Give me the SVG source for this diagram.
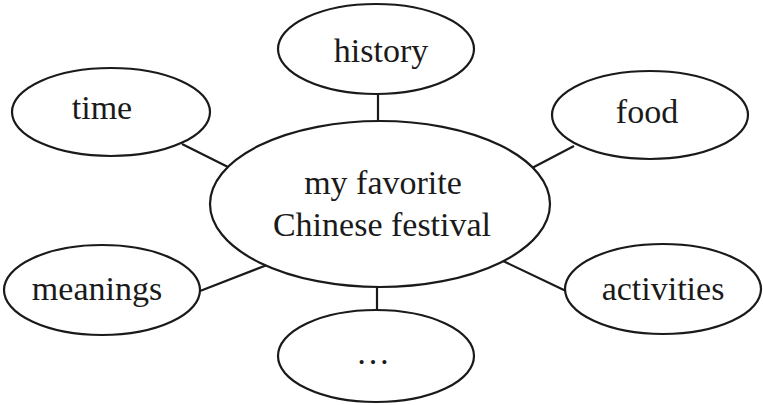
<svg xmlns="http://www.w3.org/2000/svg" width="763" height="405" viewBox="0 0 763 405">
<style>
.n{fill:#fff;stroke:#1a1a1a;stroke-width:2.2}
.c line{stroke:#1a1a1a;stroke-width:2.2}
text{font-family:"Liberation Serif","Times New Roman",serif;font-size:34px;fill:#1a1a1a;text-anchor:middle}
</style>
<rect width="763" height="405" fill="#fff"/>
<g id="connectors" class="c">
<line x1="378" y1="94" x2="378" y2="122"/>
<line x1="182" y1="144" x2="230" y2="168"/>
<line x1="574" y1="146" x2="532" y2="168"/>
<line x1="200" y1="291" x2="267" y2="265"/>
<line x1="503" y1="261" x2="566" y2="291"/>
<line x1="377" y1="286" x2="377" y2="311"/>
</g>
<g id="center"><ellipse class="n" cx="380" cy="204" rx="170" ry="83"/>
<text x="383" y="194">my favorite</text><text x="382" y="236">Chinese festival</text></g>
<g id="history"><ellipse class="n" cx="376" cy="49" rx="98" ry="45"/><text x="381" y="62">history</text></g>
<g id="time"><ellipse class="n" cx="111" cy="112" rx="99" ry="44"/><text x="102" y="119">time</text></g>
<g id="food"><ellipse class="n" cx="650" cy="115" rx="98" ry="44"/><text x="647" y="123">food</text></g>
<g id="meanings"><ellipse class="n" cx="102" cy="290" rx="98" ry="45"/><text x="97" y="300">meanings</text></g>
<g id="activities"><ellipse class="n" cx="663" cy="289" rx="98" ry="45"/><text x="663" y="300">activities</text></g>
<g id="more"><ellipse class="n" cx="376" cy="356" rx="98" ry="46"/><text x="373" y="364">…</text></g>
</svg>
